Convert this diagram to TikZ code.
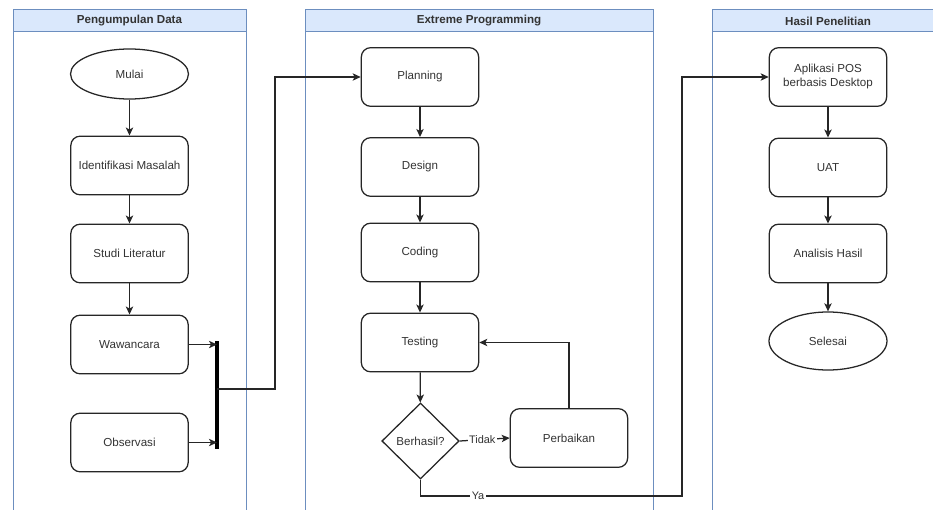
\documentclass[tikz,border=0pt]{standalone}
\usepackage{fontspec}
\setmainfont{Liberation Sans}
\definecolor{laneblue}{RGB}{108,142,191}
\definecolor{headblue}{RGB}{218,232,252}
\definecolor{inkgray}{RGB}{51,51,51}
\usetikzlibrary{calc, positioning, arrows.meta, shapes.geometric}

\begin{document}
\begin{tikzpicture}[x=0.75pt, y=-0.75pt,
  lane/.style={draw=laneblue, line width=0.75pt},
  laneHead/.style={lane, fill=headblue},
  headText/.style={font=\fontsize{8.7}{10}\selectfont\bfseries, text=inkgray},
  box/.style={draw=black!85, line width=0.95pt, rounded corners=7pt, minimum width=88pt,
    minimum height=44pt, inner sep=2pt, font=\fontsize{8.7}{10.5}\selectfont, text=inkgray, align=center},
  terminal/.style={box, ellipse, rounded corners=0pt, minimum width=88.5pt},
  decision/.style={box, diamond, rounded corners=0pt, aspect=1, inner sep=0pt,
    minimum width=58pt, minimum height=57pt},
  arrow/.style={-{Stealth[length=6pt, width=5.5pt, inset=1.5pt]}, black!85, line width=0.95pt},
  lbl/.style={fill=white, inner sep=1pt, font=\fontsize{8.2}{10}\selectfont, text=inkgray},
]
  \useasboundingbox (0,0) rectangle (933,510);
  \clip (0,0) rectangle (933,510);

  \draw[lane] (13,10) rectangle (246,530);
  \draw[laneHead] (13,10) rectangle (246,32);
  \node[headText] (h1) at (129.5,21) {Pengumpulan Data};
  \draw[lane] (305,10) rectangle (653,530);
  \draw[laneHead] (305,10) rectangle (653,32);
  \node[headText] (h2) at (479,21) {Extreme Programming};
  \draw[lane] (712,10) rectangle (960,530);
  \draw[laneHead] (712,10) rectangle (960,32);
  \node[headText] (h3) at (828,21) {Hasil Penelitian};

  \node[terminal, minimum height=37.5pt] (mulai) at (129.5,74) {Mulai};
  \node[box] (identifikasi) at (129.5,165.5) {Identifikasi Masalah};
  \node[box] (studi) at (129.5,253.5) {Studi Literatur};
  \node[box] (wawancara) at (129.5,344.5) {Wawancara};
  \node[box] (observasi) at (129.5,442.5) {Observasi};
  \coordinate (barTop) at (217,341);
  \coordinate (barBot) at (217,449);
  \coordinate (barMid) at (217,389);
  \draw[line width=2.4pt] (barTop) -- (barBot);
  \draw[arrow] (mulai) -- (identifikasi);
  \draw[arrow] (identifikasi) -- (studi);
  \draw[arrow] (studi) -- (wawancara);
  \draw[arrow] (wawancara.east) -- (wawancara.east -| barTop);
  \draw[arrow] (observasi.east) -- (observasi.east -| barTop);

  \node[box] (planning) at (420,77) {Planning};
  \node[box] (design) at (420,167) {Design};
  \node[box] (coding) at (420,252.5) {Coding};
  \node[box] (testing) at (420,342.5) {Testing};
  \node[decision] (berhasil) at (420.5,441) {Berhasil?};
  \node[box] (perbaikan) at (569,438) {Perbaikan};
  \draw[arrow] (barMid) -- ++(58,0) |- (planning.west);
  \draw[arrow] (planning) -- (design);
  \draw[arrow] (design) -- (coding);
  \draw[arrow] (coding) -- (testing);
  \draw[arrow] (testing) -- (berhasil);
  \draw[arrow] (berhasil.east) -- node[lbl, pos=0.45] {Tidak} (perbaikan.west);
  \draw[arrow] (perbaikan.north) |- (testing.east);

  \node[box] (aplikasi) at (828,77) {Aplikasi POS\\berbasis Desktop};
  \node[box] (uat) at (828,167.5) {UAT};
  \node[box] (analisis) at (828,253.5) {Analisis Hasil};
  \node[terminal, minimum height=43.5pt] (selesai) at (828,341) {Selesai};
  \coordinate (yaTurn) at (682,496);
  \draw[arrow] (berhasil.south) |- node[lbl, pos=0.61] {Ya} (yaTurn) |- (aplikasi.west);
  \draw[arrow] (aplikasi) -- (uat);
  \draw[arrow] (uat) -- (analisis);
  \draw[arrow] (analisis) -- (selesai);
\end{tikzpicture}
\end{document}
